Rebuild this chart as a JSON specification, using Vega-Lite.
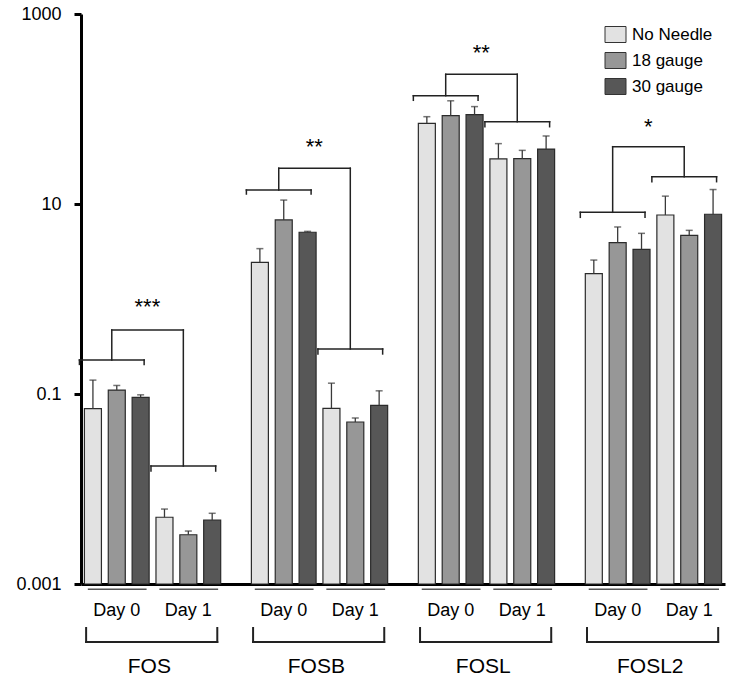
{
  "$schema": "https://vega.github.io/schema/vega-lite/v6.json",
  "width": 644,
  "height": 570,
  "autosize": {"type": "none"},
  "padding": {"left": 81, "top": 14, "right": 25, "bottom": 98},
  "background": "white",
  "config": {
    "view": {"stroke": null},
    "font": "Liberation Sans",
    "axis": {"labelFont": "Liberation Sans", "grid": false}
  },
  "datasets": {
    "bars": [
      {"gene": "FOS", "day": "Day 0", "condition": "No Needle", "value": 0.070, "upper": 0.140},
      {"gene": "FOS", "day": "Day 0", "condition": "18 gauge", "value": 0.110, "upper": 0.123},
      {"gene": "FOS", "day": "Day 0", "condition": "30 gauge", "value": 0.092, "upper": 0.098},
      {"gene": "FOS", "day": "Day 1", "condition": "No Needle", "value": 0.00504, "upper": 0.00615},
      {"gene": "FOS", "day": "Day 1", "condition": "18 gauge", "value": 0.0033, "upper": 0.00361},
      {"gene": "FOS", "day": "Day 1", "condition": "30 gauge", "value": 0.00472, "upper": 0.00555},
      {"gene": "FOSB", "day": "Day 0", "condition": "No Needle", "value": 2.43, "upper": 3.39},
      {"gene": "FOSB", "day": "Day 0", "condition": "18 gauge", "value": 6.79, "upper": 11.0},
      {"gene": "FOSB", "day": "Day 0", "condition": "30 gauge", "value": 5.04, "upper": 5.15},
      {"gene": "FOSB", "day": "Day 1", "condition": "No Needle", "value": 0.0706, "upper": 0.130},
      {"gene": "FOSB", "day": "Day 1", "condition": "18 gauge", "value": 0.0507, "upper": 0.0559},
      {"gene": "FOSB", "day": "Day 1", "condition": "30 gauge", "value": 0.076, "upper": 0.108},
      {"gene": "FOSL", "day": "Day 0", "condition": "No Needle", "value": 70.7, "upper": 83.0},
      {"gene": "FOSL", "day": "Day 0", "condition": "18 gauge", "value": 85.1, "upper": 122},
      {"gene": "FOSL", "day": "Day 0", "condition": "30 gauge", "value": 87.2, "upper": 106},
      {"gene": "FOSL", "day": "Day 1", "condition": "No Needle", "value": 29.8, "upper": 43.2},
      {"gene": "FOSL", "day": "Day 1", "condition": "18 gauge", "value": 30.0, "upper": 36.7},
      {"gene": "FOSL", "day": "Day 1", "condition": "30 gauge", "value": 37.9, "upper": 52.0},
      {"gene": "FOSL2", "day": "Day 0", "condition": "No Needle", "value": 1.85, "upper": 2.57},
      {"gene": "FOSL2", "day": "Day 0", "condition": "18 gauge", "value": 3.92, "upper": 5.73},
      {"gene": "FOSL2", "day": "Day 0", "condition": "30 gauge", "value": 3.33, "upper": 4.91},
      {"gene": "FOSL2", "day": "Day 1", "condition": "No Needle", "value": 7.66, "upper": 12.1},
      {"gene": "FOSL2", "day": "Day 1", "condition": "18 gauge", "value": 4.68, "upper": 5.28},
      {"gene": "FOSL2", "day": "Day 1", "condition": "30 gauge", "value": 7.8, "upper": 14.2}
    ],
    "brackets": [
      {"gene": "FOS", "day": "Day 0", "y": 0.228, "ytick": 0.205, "top": 0.472},
      {"gene": "FOS", "day": "Day 1", "y": 0.01746, "ytick": 0.01545, "top": 0.472},
      {"gene": "FOSB", "day": "Day 0", "y": 14.03, "ytick": 12.74, "top": 23.8},
      {"gene": "FOSB", "day": "Day 1", "y": 0.298, "ytick": 0.264, "top": 23.8},
      {"gene": "FOSL", "day": "Day 0", "y": 138, "ytick": 123.5, "top": 231.9},
      {"gene": "FOSL", "day": "Day 1", "y": 73.5, "ytick": 65.1, "top": 231.9},
      {"gene": "FOSL2", "day": "Day 0", "y": 8.18, "ytick": 7.24, "top": 40.1},
      {"gene": "FOSL2", "day": "Day 1", "y": 19.37, "ytick": 17.17, "top": 40.1}
    ],
    "sig": [
      {"gene": "FOS", "top": 0.472, "stars": "***", "ystar": 0.695},
      {"gene": "FOSB", "top": 23.8, "stars": "**", "ystar": 33.6},
      {"gene": "FOSL", "top": 231.9, "stars": "**", "ystar": 328},
      {"gene": "FOSL2", "top": 40.1, "stars": "*", "ystar": 55.2}
    ]
  },
  "layer": [
    {
      "data": {"name": "bars"},
      "transform": [{"calculate": "datum.gene + '|' + datum.day + '|' + datum.condition", "as": "key"}],
      "mark": {"type": "bar", "stroke": "#2b2b2b", "strokeWidth": 1.2},
      "encoding": {
        "x": {
          "field": "key", "type": "nominal", "title": null,
          "scale": {
            "type": "band",
            "domain": [
              "FOS|Day 0|No Needle", "FOS|Day 0|18 gauge", "FOS|Day 0|30 gauge",
              "FOS|Day 1|No Needle", "FOS|Day 1|18 gauge", "FOS|Day 1|30 gauge", "gap1",
              "FOSB|Day 0|No Needle", "FOSB|Day 0|18 gauge", "FOSB|Day 0|30 gauge",
              "FOSB|Day 1|No Needle", "FOSB|Day 1|18 gauge", "FOSB|Day 1|30 gauge", "gap2",
              "FOSL|Day 0|No Needle", "FOSL|Day 0|18 gauge", "FOSL|Day 0|30 gauge",
              "FOSL|Day 1|No Needle", "FOSL|Day 1|18 gauge", "FOSL|Day 1|30 gauge", "gap3",
              "FOSL2|Day 0|No Needle", "FOSL2|Day 0|18 gauge", "FOSL2|Day 0|30 gauge",
              "FOSL2|Day 1|No Needle", "FOSL2|Day 1|18 gauge", "FOSL2|Day 1|30 gauge"
            ],
            "paddingInner": 0.287,
            "paddingOuter": 0.1435
          },
          "axis": {
            "labelExpr": "indexof(datum.value, '18 gauge') >= 0 ? split(datum.value, '|')[1] : ''",
            "ticks": false,
            "labelAngle": 0,
            "labelFontSize": 18,
            "labelColor": "black",
            "labelPadding": 31,
            "labelBaseline": "alphabetic",
            "labelOverlap": false,
            "domainColor": "black",
            "domainWidth": 3,
            "title": null
          }
        },
        "y": {
          "field": "value", "type": "quantitative", "title": null,
          "scale": {"type": "log", "domain": [0.001, 1000], "nice": false},
          "axis": {
            "values": [0.001, 0.1, 10, 1000],
            "format": "~g",
            "labelFontSize": 18,
            "labelColor": "black",
            "labelAlign": "right",
            "labelBaseline": "middle",
            "labelFlush": false,
            "tickSize": 7,
            "tickWidth": 3,
            "tickColor": "black",
            "domainWidth": 3,
            "domainColor": "black",
            "labelPadding": 13,
            "grid": false,
            "title": null
          }
        },
        "y2": {"datum": 0.001},
        "color": {
          "field": "condition", "type": "nominal", "title": null,
          "scale": {"domain": ["No Needle", "18 gauge", "30 gauge"], "range": ["#e2e2e2", "#979797", "#575757"]},
          "legend": {
            "orient": "none",
            "legendX": 526,
            "legendY": 12,
            "title": null,
            "symbolType": "M-1.3125,-1H1.3125V1H-1.3125Z",
            "symbolSize": 256,
            "symbolStrokeColor": "#333333",
            "symbolStrokeWidth": 1,
            "symbolOpacity": 1,
            "labelFontSize": 17,
            "labelFont": "Liberation Sans",
            "labelColor": "black",
            "labelOffset": 8,
            "rowPadding": 5
          }
        }
      }
    },
    {
      "data": {"name": "bars"},
      "transform": [{"calculate": "datum.gene + '|' + datum.day + '|' + datum.condition", "as": "key"}],
      "mark": {"type": "rule", "color": "#3a3a3a", "strokeWidth": 1.3},
      "encoding": {
        "x": {"field": "key", "type": "nominal", "title": null},
        "y": {"field": "value", "type": "quantitative", "title": null},
        "y2": {"field": "upper"}
      }
    },
    {
      "data": {"name": "bars"},
      "transform": [{"calculate": "datum.gene + '|' + datum.day + '|' + datum.condition", "as": "key"}],
      "mark": {"type": "tick", "color": "#3a3a3a", "thickness": 1.5, "size": 7, "orient": "horizontal"},
      "encoding": {
        "x": {"field": "key", "type": "nominal", "title": null},
        "y": {"field": "upper", "type": "quantitative", "title": null}
      }
    },
    {
      "data": {"name": "brackets"},
      "transform": [
        {"calculate": "datum.gene + '|' + datum.day + '|No Needle'", "as": "k1"},
        {"calculate": "datum.gene + '|' + datum.day + '|30 gauge'", "as": "k3"}
      ],
      "mark": {"type": "rule", "color": "#222222", "strokeWidth": 1.5, "strokeCap": "square", "xOffset": -5, "x2Offset": -5},
      "encoding": {
        "x": {"field": "k1", "type": "nominal", "bandPosition": 0, "title": null},
        "x2": {"field": "k3", "bandPosition": 1},
        "y": {"field": "y", "type": "quantitative", "title": null}
      }
    },
    {
      "data": {"name": "brackets"},
      "transform": [{"calculate": "datum.gene + '|' + datum.day + '|No Needle'", "as": "k1"}],
      "mark": {"type": "rule", "color": "#222222", "strokeWidth": 1.5, "strokeCap": "square", "xOffset": -5},
      "encoding": {
        "x": {"field": "k1", "type": "nominal", "bandPosition": 0, "title": null},
        "y": {"field": "y", "type": "quantitative", "title": null},
        "y2": {"field": "ytick"}
      }
    },
    {
      "data": {"name": "brackets"},
      "transform": [{"calculate": "datum.gene + '|' + datum.day + '|30 gauge'", "as": "k3"}],
      "mark": {"type": "rule", "color": "#222222", "strokeWidth": 1.5, "strokeCap": "square", "xOffset": -5},
      "encoding": {
        "x": {"field": "k3", "type": "nominal", "bandPosition": 1, "title": null},
        "y": {"field": "y", "type": "quantitative", "title": null},
        "y2": {"field": "ytick"}
      }
    },
    {
      "data": {"name": "brackets"},
      "transform": [{"calculate": "datum.gene + '|' + datum.day + '|18 gauge'", "as": "k2"}],
      "mark": {"type": "rule", "color": "#222222", "strokeWidth": 1.5, "strokeCap": "square", "xOffset": -5},
      "encoding": {
        "x": {"field": "k2", "type": "nominal", "title": null},
        "y": {"field": "y", "type": "quantitative", "title": null},
        "y2": {"field": "top"}
      }
    },
    {
      "data": {"name": "sig"},
      "transform": [
        {"calculate": "datum.gene + '|Day 0|18 gauge'", "as": "a"},
        {"calculate": "datum.gene + '|Day 1|18 gauge'", "as": "b"}
      ],
      "mark": {"type": "rule", "color": "#222222", "strokeWidth": 1.5, "strokeCap": "square", "xOffset": -5, "x2Offset": -5},
      "encoding": {
        "x": {"field": "a", "type": "nominal", "title": null},
        "x2": {"field": "b"},
        "y": {"field": "top", "type": "quantitative", "title": null}
      }
    },
    {
      "data": {"name": "sig"},
      "transform": [{"calculate": "datum.gene + '|Day 0|30 gauge'", "as": "c"}],
      "mark": {"type": "text", "fontSize": 22, "baseline": "alphabetic", "align": "center", "color": "black", "xOffset": -5, "font": "Liberation Sans"},
      "encoding": {
        "x": {"field": "c", "type": "nominal", "bandPosition": 1.19, "title": null},
        "y": {"field": "ystar", "type": "quantitative", "title": null},
        "text": {"field": "stars"}
      }
    },
    {
      "data": {"name": "brackets"},
      "transform": [
        {"calculate": "datum.gene + '|' + datum.day + '|No Needle'", "as": "k1"},
        {"calculate": "datum.gene + '|' + datum.day + '|30 gauge'", "as": "k3"}
      ],
      "mark": {"type": "rule", "color": "#555555", "strokeWidth": 1.3},
      "encoding": {
        "x": {"field": "k1", "type": "nominal", "bandPosition": 0.2, "title": null},
        "x2": {"field": "k3", "bandPosition": 0.85},
        "y": {"datum": 0.00088}
      }
    },
    {
      "data": {"name": "sig"},
      "transform": [
        {"calculate": "datum.gene + '|Day 0|No Needle'", "as": "n1"},
        {"calculate": "datum.gene + '|Day 1|30 gauge'", "as": "n6"}
      ],
      "mark": {"type": "rule", "color": "#222222", "strokeWidth": 2, "strokeCap": "square"},
      "encoding": {
        "x": {"field": "n1", "type": "nominal", "bandPosition": 0.1, "title": null},
        "x2": {"field": "n6", "bandPosition": 0.8},
        "y": {"datum": 0.000245}
      }
    },
    {
      "data": {"name": "sig"},
      "transform": [{"calculate": "datum.gene + '|Day 0|No Needle'", "as": "n1"}],
      "mark": {"type": "rule", "color": "#222222", "strokeWidth": 2, "strokeCap": "square"},
      "encoding": {
        "x": {"field": "n1", "type": "nominal", "bandPosition": 0.1, "title": null},
        "y": {"datum": 0.000344},
        "y2": {"datum": 0.000245}
      }
    },
    {
      "data": {"name": "sig"},
      "transform": [{"calculate": "datum.gene + '|Day 1|30 gauge'", "as": "n6"}],
      "mark": {"type": "rule", "color": "#222222", "strokeWidth": 2, "strokeCap": "square"},
      "encoding": {
        "x": {"field": "n6", "type": "nominal", "bandPosition": 0.8, "title": null},
        "y": {"datum": 0.000344},
        "y2": {"datum": 0.000245}
      }
    },
    {
      "data": {"name": "sig"},
      "transform": [{"calculate": "datum.gene + '|Day 0|30 gauge'", "as": "c"}],
      "mark": {"type": "text", "fontSize": 21, "baseline": "alphabetic", "align": "center", "color": "black", "xOffset": -3, "font": "Liberation Sans"},
      "encoding": {
        "x": {"field": "c", "type": "nominal", "bandPosition": 1.19, "title": null},
        "y": {"datum": 0.000115},
        "text": {"field": "gene"}
      }
    }
  ]
}
